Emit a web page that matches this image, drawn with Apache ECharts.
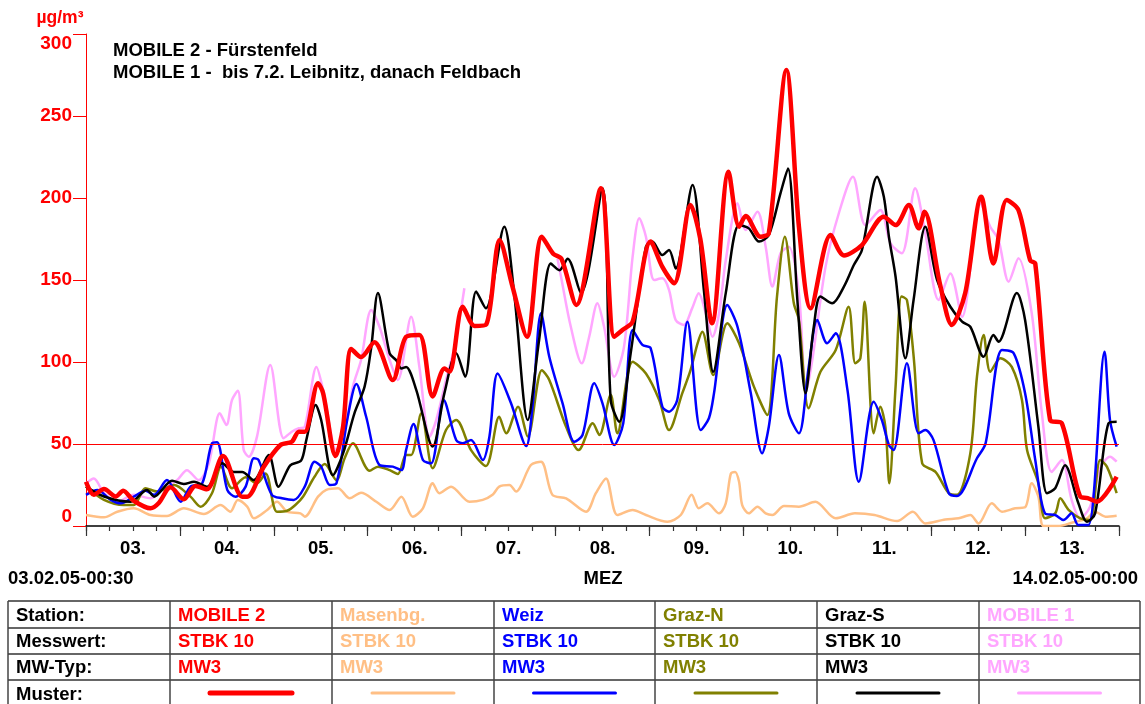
<!DOCTYPE html>
<html>
<head>
<meta charset="utf-8">
<title>STBK 10 - MW3</title>
<script src="https://cdn.jsdelivr.net/npm/echarts@6/dist/echarts.min.js"></script>
<style>
  html, body { margin: 0; padding: 0; background: #fff; }
  #chart { width: 1145px; height: 704px; }
</style>
</head>
<body>
<div id="chart"></div>
<script>
// hours since 03.02.05 00:00, value in µg/m³
var mobile2Data = [
  [0, 27], [2, 19], [4.6, 22.5], [7.6, 18], [9.5, 21.5], [12.2, 15.4], [16.5, 10.8], [18.6, 14],
  [21.6, 23.6], [25, 16.3], [28, 24.4], [30.9, 22.4], [35, 42.7], [39.9, 17.9], [41.2, 17.9],
  [45.4, 36], [49.7, 49.4], [52.6, 51.4], [54.4, 57.5], [55.9, 57.5], [59.3, 87], [60.6, 81],
  [63.8, 42.7], [65.7, 60.5], [67.8, 108], [70.3, 103], [73.7, 112], [78.4, 89], [81.8, 115.4],
  [85.2, 116.5], [88.6, 79], [91.6, 96], [92.9, 94], [96.3, 133.7], [99.3, 122], [102.3, 123],
  [105.7, 174.4], [109, 146], [112.7, 115.4], [116.5, 176.4], [119.4, 166], [121.5, 163],
  [125.3, 134.8], [131.6, 206], [135, 115.4], [137.1, 119.5], [139.7, 124.6], [144.3, 173.4],
  [147.3, 158], [150.3, 148], [154.5, 195.7], [157, 175], [160, 123.6], [164.2, 216],
  [166.9, 182.5], [168.6, 189], [172.4, 176.4], [174.5, 178.5], [179, 278], [182.2, 182.5],
  [185.2, 132.7], [190.3, 177.4], [193.7, 165], [198.3, 171.3], [203.9, 188.6], [206.9, 183.5],
  [210.3, 195.7], [212.8, 181.5], [214.3, 191.6], [218.3, 147], [221.3, 122.6], [224.7, 142],
  [228.8, 200.8], [231.9, 160], [235.3, 198.8], [238.3, 192.7], [241.3, 162], [242.6, 160],
  [246.4, 64.6], [249.4, 62.6], [254.1, 17.9], [256, 17], [258.3, 14.8], [263.4, 30]
];
var masenbgData = [
  [0, 6.7], [4.6, 5.3], [8, 8.7], [12.2, 10.8], [16.5, 6.7], [20.7, 6.1], [25, 10.8], [30.1, 7.3],
  [34.4, 12.8], [36.9, 8.7], [38.8, 15.9], [41.2, 11.8], [42.9, 4.7], [46.3, 9.8], [48.8, 14.8],
  [51.4, 8.7], [54.8, 7.7], [55.9, 5.7], [59.3, 17.9], [61.4, 22], [64.4, 23], [67.4, 16.9],
  [70.3, 20.3], [74.2, 14.8], [77.6, 9.8], [80.6, 17.9], [83.5, 5.7], [86.1, 10.8], [88.6, 26],
  [90.3, 20], [93.3, 24], [98, 14.8], [101.4, 15.9], [103.9, 19], [105.6, 24], [108.2, 25],
  [109.9, 21], [113.7, 37.2], [116.3, 39.2], [119.2, 19], [122.7, 16.9], [127.8, 8.7],
  [130.3, 20], [132.9, 29], [135.8, 6.7], [139.7, 9.8], [143.1, 6.7], [148.6, 2.6], [152, 6.7],
  [154.8, 19], [156.6, 10.8], [158.8, 13.8], [161.8, 7.7], [163.5, 13.8], [164.8, 32],
  [165.9, 33], [166.9, 27], [167.7, 12.8], [169.4, 7.7], [171.6, 11.8], [173.7, 7.7],
  [175.4, 6.7], [178.4, 12.2], [182.2, 11.8], [186.4, 14.8], [191.6, 4.7], [196.5, 7.7],
  [201.5, 6.7], [207.3, 3], [211.3, 8.7], [214.5, 1.6], [219.6, 4], [223, 4.7], [226, 6.7],
  [228.1, 1.6], [231.5, 13.8], [234.1, 8.7], [237.5, 10.8], [240, 11.4], [241.7, 26],
  [243.4, 17.9], [244.7, 0], [248.5, 0], [251.9, 2], [255.8, 4.7], [257.9, 8.7], [260.5, 5.7],
  [263.4, 6.3]
];
var weizData = [
  [0, 19], [2.9, 22], [6.3, 15.9], [8.9, 13.8], [12.2, 17.9], [15.2, 21.5], [17.4, 19], [20.7, 28],
  [24.2, 14.8], [26.7, 24], [29.7, 26], [32.2, 50.4], [33.5, 51], [36.1, 22], [38.2, 17.9],
  [40.8, 24], [42.9, 41.3], [44.1, 40.2], [47.5, 19], [50.1, 16.9], [53.1, 15.9], [55.9, 24],
  [58.4, 39.2], [60.1, 36.2], [62.3, 25], [64, 26], [66.9, 66.6], [69.1, 86.6], [71.6, 66.6],
  [75, 37.2], [78.4, 36.2], [80.6, 34.1], [81.8, 46.3], [83.7, 62.2], [86.1, 40.2], [88.2, 38.2],
  [91.4, 76.8], [94.6, 52.4], [96.3, 50.4], [98.4, 52.4], [101.4, 40.2], [103.1, 54.5],
  [105.2, 93], [108.6, 75], [112.5, 48.8], [114.1, 72.7], [116.3, 129.7], [118.4, 103.2],
  [121.8, 74.8], [124.8, 51.4], [126.9, 55.5], [129.9, 87], [132, 74.8], [135, 49.4],
  [137.3, 62.6], [139.7, 119.5], [142.2, 110.4], [144.3, 108.4], [147.3, 72.7], [149, 69.7],
  [151.1, 76.8], [153.7, 124.6], [157.1, 58.5], [159.2, 65.7], [160.5, 81], [163.9, 134.8],
  [166.5, 121.5], [169.9, 81], [172.8, 44.3], [174.5, 60.5], [177.1, 104.3], [179.6, 68.7],
  [182.2, 56.5], [184.7, 97], [186.9, 125.6], [189.4, 111.4], [191.6, 117.5], [194.6, 83],
  [197.5, 27], [201.3, 75.8], [203.4, 64.6], [205.2, 49.4], [206.4, 46.3], [209.8, 99.2],
  [212.8, 56.5], [214.5, 58.5], [216.6, 52.4], [220.5, 20], [222.6, 18.3], [227.7, 41.3],
  [229.9, 50.4], [234.1, 107.3], [237.1, 105.3], [240, 81], [242.6, 40.2], [245.1, 7.7],
  [247.7, 6.7], [249.8, 3.7], [251.9, 7.7], [253.6, 0.6], [256.2, 0.6], [260.3, 106.3],
  [261.7, 64.6], [263.4, 48.4]
];
var grazNData = [
  [0, 24], [4.6, 15.9], [9.7, 12.8], [12.2, 12.8], [15.2, 23], [18.2, 21], [22.5, 25], [26.7, 17.9],
  [29.3, 11.8], [32.2, 20], [34.5, 36.2], [37.3, 23], [40.8, 29.7], [43.7, 26], [45.9, 32],
  [48.8, 8.7], [51.4, 9.3], [53.5, 12.8], [55.5, 18], [58.4, 30], [61, 37.8], [64, 28],
  [66.1, 41.3], [68.2, 50.4], [72.5, 33.7], [74.6, 36.2], [77.6, 34.1], [79.7, 31.7],
  [81.8, 43.3], [83.1, 43.3], [85.7, 68.7], [88.6, 35.2], [92, 58.5], [94.6, 64.6], [98.4, 46.3],
  [102.2, 36.6], [105.6, 66.6], [107.4, 56.5], [110.4, 72.7], [112.9, 54.5], [116.5, 95],
  [118.4, 89], [122.7, 60.5], [125.9, 46.3], [129.5, 62.6], [131.2, 55.5], [134.1, 80],
  [135.8, 56.5], [139.7, 100.2], [143.1, 93], [146.5, 76.8], [149, 58.5], [152.4, 81],
  [154.5, 95], [156.3, 111.4], [157.5, 118.5], [160.3, 92], [163.9, 123.6], [166.9, 111.4],
  [170.7, 85], [174.1, 67.7], [176.6, 140], [178.6, 176.4], [180.9, 135.8], [182.2, 125.6],
  [184.7, 71.8], [187.7, 94], [191.6, 107.3], [194.9, 133.7], [196.6, 99.2], [197.9, 102.3],
  [199, 136.8], [201.3, 56.5], [203, 72.7], [204.3, 60.5], [205.3, 26], [206.9, 85],
  [208.4, 140], [209.8, 137.8], [211.6, 101.2], [213.7, 38.2], [217.1, 33], [220.5, 20],
  [222.6, 19], [226, 44.3], [227.7, 91], [229.4, 116.5], [231.1, 94], [233.7, 102.3],
  [236.6, 97], [239.2, 76.8], [240.5, 46.3], [243.4, 26], [245.1, 4.7], [247.7, 7.7], [249, 16.9],
  [251.1, 9.8], [254.1, 4.7], [256.6, 3.7], [259.2, 40.2], [260.9, 36.2], [263.4, 20]
];
var grazSData = [
  [0, 24], [4.6, 18], [11.4, 14.8], [15.6, 22], [17.4, 17.9], [22, 27.6], [25, 25.6], [27.6, 27],
  [31, 24], [34.8, 38.2], [37.8, 33], [39.9, 33], [42.9, 28], [46.7, 43.3], [49.2, 24], [52.2, 37],
  [55, 40], [56.3, 52.4], [58.7, 73.8], [60.1, 64.6], [63.1, 31], [65.7, 44.3], [68.6, 68.7],
  [71.2, 85], [72.9, 109], [74.6, 142], [77.6, 105.3], [79.3, 101], [80.6, 96], [81.8, 97],
  [84.4, 83], [88.6, 48.4], [91.6, 81], [94.6, 105.3], [96.9, 91], [99.7, 143], [102.2, 132.7],
  [106.9, 182.5], [109.5, 140], [112.9, 64.6], [115.8, 113.4], [118.8, 160], [121, 156],
  [123.1, 163], [126.5, 142], [132, 206], [134.1, 76.8], [136.3, 63.6], [139.2, 105.3],
  [143.1, 170.3], [144.7, 173.4], [147.3, 165.2], [149, 168.3], [150.7, 157], [155, 208],
  [157.9, 144], [160.3, 94], [163.5, 142], [166.9, 183.5], [169.4, 181.5], [172, 173.4],
  [174.5, 177.4], [177.5, 203], [179.4, 218], [181.8, 137.8], [183.9, 81], [186, 121.5],
  [187.7, 140], [190.7, 135.8], [193.7, 146], [196.2, 159], [198.3, 168.3], [202.2, 213],
  [203.9, 200.8], [205.2, 176.4], [206.9, 152], [209.4, 102.3], [211.5, 137.8], [214.5, 182.5],
  [217.5, 150], [220.9, 133.7], [223.9, 124.6], [226, 121.5], [229.4, 103.2], [231.9, 116.5],
  [233.2, 112.4], [237.9, 142], [240, 125.6], [243.4, 60.5], [245.6, 20], [247.7, 23],
  [250.2, 37], [253.6, 14], [255.8, 2.6], [257.9, 7.7], [261.3, 62.6], [263.4, 63.6]
];
// MOBILE 1 moved from Leibnitz to Feldbach on 7.2. -> gap
var mobile1Data = [
  [0, 26], [2, 29], [4.6, 20], [8, 14.8], [12.2, 19], [16.5, 16.9], [19.9, 23], [23.3, 28],
  [25.8, 34], [28.8, 28], [31.4, 38.2], [34.2, 68.7], [35.9, 61.6], [37.3, 76.8], [38.8, 82.5],
  [40.3, 46.3], [41.6, 42.3], [43.7, 54.5], [47.1, 98.2], [50.5, 53.5], [52.6, 57.5],
  [54.4, 59.6], [55.9, 60.5], [58.9, 97], [60.6, 83], [64, 46.3], [66.5, 62.6], [68.2, 85],
  [70.3, 101.2], [72.9, 131.7], [75, 121.5], [77.6, 101.2], [79.7, 89], [83.1, 127.6],
  [85.2, 97], [87.8, 54.5], [89.5, 64.6], [92, 89], [94.2, 109.3], [96.7, 145], [108, null],
  [120.5, 163], [121.4, 152], [123.9, 121.5], [126.7, 99.2], [128.6, 115.4], [130.7, 135.8],
  [132.4, 121.5], [135, 91], [137.5, 109.3], [139.7, 164.2], [141.4, 187.6], [143.1, 176.4],
  [145.2, 150], [147.3, 151], [149, 144], [150.7, 125.6], [152.8, 122.6], [154.9, 132.7],
  [156.6, 141.9], [158.4, 129.7], [160.1, 115.4], [161.8, 129.7], [163.5, 162], [166.5, 196.8],
  [168.6, 180.5], [171.6, 191.6], [173.7, 170.3], [175.4, 146], [177.5, 166.3], [179.6, 170.3],
  [182.2, 141.9], [184, 82], [185.6, 101], [189, 158], [192.4, 190.7], [196, 213],
  [199.2, 183.5], [203, 192.7], [205.6, 172.4], [208.5, 166.3], [211.9, 206], [214.5, 178.5],
  [217.9, 137.8], [220.9, 154], [223.9, 127.6], [228.6, 196.8], [231.1, 182.5], [233.2, 174.4],
  [235.8, 149], [238.3, 163.2], [241.7, 129.7], [244.2, 70.7], [246.8, 33], [249.4, 40.2],
  [251.9, 15.9], [254.1, 4.7], [256.6, 11.8], [259.2, 35.2], [261.7, 42.3], [263.4, 39.2]
];

var dayLabels = ['03.', '04.', '05.', '06.', '07.', '08.', '09.', '10.', '11.', '12.', '13.'];
var stations = ['MOBILE 2', 'Masenbg.', 'Weiz', 'Graz-N', 'Graz-S', 'MOBILE 1'];
var messwerte = ['STBK 10', 'STBK 10', 'STBK 10', 'STBK 10', 'STBK 10', 'STBK 10'];
var mwTypen = ['MW3', 'MW3', 'MW3', 'MW3', 'MW3', 'MW3'];
var colors = ['#ff0000', '#ffbf85', '#0000ff', '#808000', '#000000', '#ffa6ff'];
var limitValue = 50;

var FONT = '"Liberation Sans", Arial, Helvetica, sans-serif';

window.onload = function() {
  drawChart();
}

function
tableGraphic() {
  var colX = [8, 170, 332, 494, 655, 817, 979, 1140];
  var rowY = [601, 628, 654, 680, 707];
  var rowNames = ['Station:', 'Messwert:', 'MW-Typ:', 'Muster:'];
  var items = [];
  var i, j;

  for (i = 0; i < rowY.length; i++) {
    items.push({
      type: 'line',
      shape: {x1: colX[0], y1: rowY[i], x2: colX[colX.length - 1], y2: rowY[i]},
      style: {stroke: '#333', lineWidth: 1.5}
    });
  }
  for (j = 0; j < colX.length; j++) {
    items.push({
      type: 'line',
      shape: {x1: colX[j], y1: rowY[0], x2: colX[j], y2: rowY[rowY.length - 1]},
      style: {stroke: '#444', lineWidth: 1.5}
    });
  }
  for (i = 0; i < rowNames.length; i++) {
    items.push({
      type: 'text',
      x: colX[0] + 8,
      y: (rowY[i] + rowY[i + 1]) / 2 + 1,
      style: {text: rowNames[i], fill: '#000', font: 'bold 18.5px ' + FONT, textVerticalAlign: 'middle'}
    });
  }
  for (j = 0; j < stations.length; j++) {
    var x0 = colX[j + 1];
    var cells = [stations[j], messwerte[j], mwTypen[j]];
    for (i = 0; i < cells.length; i++) {
      items.push({
        type: 'text',
        x: x0 + 8,
        y: (rowY[i] + rowY[i + 1]) / 2 + 1,
        style: {text: cells[i], fill: colors[j], font: 'bold 18.5px ' + FONT, textVerticalAlign: 'middle'}
      });
    }
    // Muster
    var cx = (colX[j + 1] + colX[j + 2]) / 2;
    items.push({
      type: 'line',
      shape: {x1: cx - 41, y1: 693, x2: cx + 41, y2: 693},
      style: {stroke: colors[j], lineWidth: j === 0 ? 5 : 3, lineCap: 'round'}
    });
  }
  return items;
}

function
drawChart() {
  var chart = echarts.init(document.getElementById('chart'));
  var seriesData = [mobile2Data, masenbgData, weizData, grazNData, grazSData, mobile1Data];
  var drawOrder = [5, 1, 3, 2, 4, 0];
  var series = [];

  drawOrder.forEach(function(k) {
    var s = {
      name: stations[k],
      type: 'line',
      data: seriesData[k],
      showSymbol: false,
      symbol: 'none',
      smooth: 0.3,
      connectNulls: false,
      z: k === 0 ? 10 : 3,
      lineStyle: {color: colors[k], width: k === 0 ? 4.5 : 2.5},
      itemStyle: {color: colors[k]}
    };
    if (k === 0) {
      s.markLine = {
        silent: true,
        symbol: 'none',
        label: {show: false},
        lineStyle: {color: '#ff0000', width: 1, type: 'solid'},
        data: [{yAxis: limitValue}]
      };
    }
    series.push(s);
  });

  var graphics = [
    {type: 'text', x: 60, y: 18, style: {text: 'µg/m³', fill: '#ff0000', font: 'bold 17.5px ' + FONT, textAlign: 'center', textVerticalAlign: 'middle'}},
    {type: 'text', x: 113, y: 51, style: {text: 'MOBILE 2 - Fürstenfeld', fill: '#000', font: 'bold 18.5px ' + FONT, textVerticalAlign: 'middle'}},
    {type: 'text', x: 113, y: 73, style: {text: 'MOBILE 1 -  bis 7.2. Leibnitz, danach Feldbach', fill: '#000', font: 'bold 18.5px ' + FONT, textVerticalAlign: 'middle'}},
    {type: 'text', x: 8, y: 579, style: {text: '03.02.05-00:30', fill: '#000', font: 'bold 18.5px ' + FONT, textVerticalAlign: 'middle'}},
    {type: 'text', x: 603, y: 579, style: {text: 'MEZ', fill: '#000', font: 'bold 18.5px ' + FONT, textAlign: 'center', textVerticalAlign: 'middle'}},
    {type: 'text', x: 1138, y: 579, style: {text: '14.02.05-00:00', fill: '#000', font: 'bold 18.5px ' + FONT, textAlign: 'right', textVerticalAlign: 'middle'}}
  ].concat(tableGraphic());

  var option = {
    animation: false,
    backgroundColor: '#fff',
    grid: {left: 86, right: 26, top: 34, bottom: 178, containLabel: false},
    xAxis: [{
      type: 'value',
      min: 0,
      max: 264,
      interval: 6,
      axisLine: {show: true, lineStyle: {color: '#000', width: 1.5}},
      axisTick: {show: true, length: 5, lineStyle: {color: '#333', width: 1.2}},
      splitLine: {show: false},
      axisLabel: {
        margin: 13,
        color: '#000',
        fontSize: 18.5,
        fontWeight: 'bold',
        fontFamily: FONT,
        formatter: function(v) {
          if (v % 24 === 12) return dayLabels[(v - 12) / 24];
          return '';
        }
      }
    }, {
      type: 'value',
      position: 'bottom',
      min: 0,
      max: 264,
      interval: 24,
      axisLine: {show: false},
      axisTick: {show: true, length: 10, lineStyle: {color: '#333', width: 1.2}},
      axisLabel: {show: false},
      splitLine: {show: false}
    }],
    yAxis: {
      type: 'value',
      min: 0,
      max: 300,
      interval: 50,
      axisLine: {show: true, lineStyle: {color: '#ff0000', width: 1}},
      axisTick: {show: true, length: 13, lineStyle: {color: '#ff0000', width: 1}},
      splitLine: {show: false},
      axisLabel: {
        margin: 14,
        color: '#ff0000',
        fontSize: 19,
        fontWeight: 'bold',
        fontFamily: FONT,
        verticalAlignMaxLabel: 'top',
        verticalAlignMinLabel: 'bottom'
      }
    },
    graphic: graphics,
    series: series
  };

  chart.setOption(option);
}
</script>
</body>
</html>
